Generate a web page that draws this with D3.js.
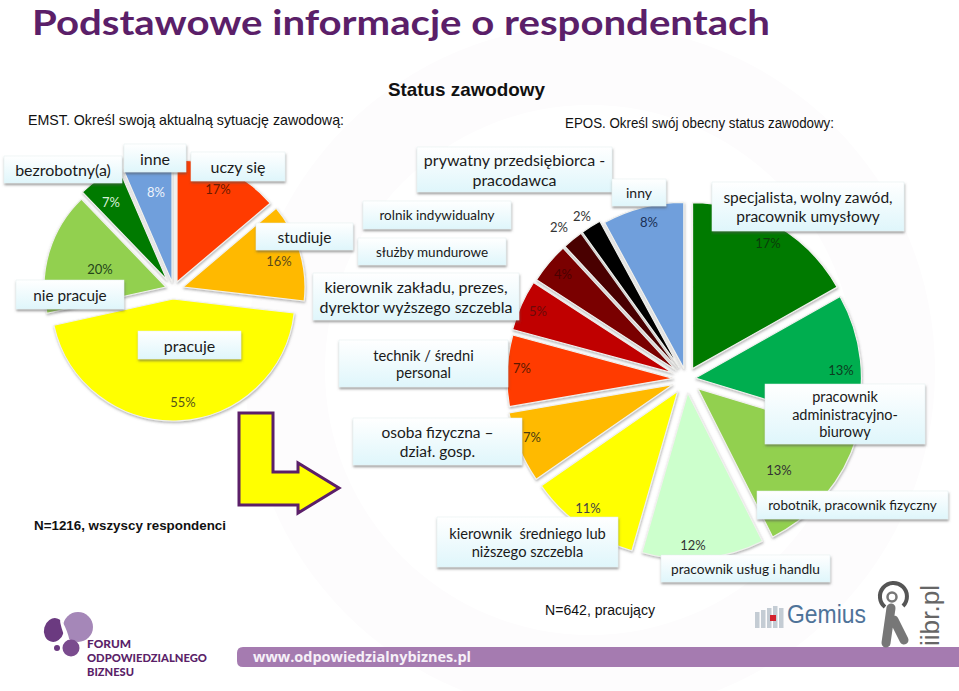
<!DOCTYPE html>
<html><head><meta charset="utf-8">
<script src="https://cdn.jsdelivr.net/npm/d3@7"></script>
<style>html,body{margin:0;padding:0;background:#fff}svg{display:block}</style>
</head><body><div id="c"></div>
<script>
const leftCategories=["uczy się","studiuje","pracuje","nie pracuje","bezrobotny(a)","inne"];
const leftValues=[17,16,55,20,7,8];
const leftColors=["#FF3B00","#FFB900","#FFFF00","#92D050","#007A00","#6F9FDC"];
const rightCategories=["specjalista, wolny zawód,\npracownik umysłowy","pracownik\nadministracyjno-\nbiurowy","robotnik, pracownik fizyczny","pracownik usług i handlu","kierownik  średniego lub\nniższego szczebla","osoba fizyczna –\ndział. gosp.","technik / średni\npersonal","kierownik zakładu, prezes,\ndyrektor wyższego szczebla","służby mundurowe","rolnik indywidualny","prywatny przedsiębiorca -\npracodawca","inny"];
const rightValues=[17,13,13,12,11,7,7,5,4,2,2,8];
const rightColors=["#007A00","#00AE50","#92D050","#CCFFCC","#FFFF00","#FFBA00","#FF3B00","#C00000","#7A0000","#4A0000","#000000","#6F9FDC"];

const W=959,H=691;
const svg=d3.select("#c").append("svg").attr("width",W).attr("height",H).attr("viewBox",[0,0,W,H]);
const defs=svg.append("defs");
const lg=defs.append("linearGradient").attr("id","box").attr("x1",0).attr("y1",0).attr("x2",0).attr("y2",1);
lg.append("stop").attr("offset",0).attr("stop-color","#ffffff");
lg.append("stop").attr("offset",1).attr("stop-color","#dff6fb");
const f=defs.append("filter").attr("id","sh").attr("x","-10%").attr("y","-10%").attr("width","120%").attr("height","130%");
f.append("feDropShadow").attr("dx",0.5).attr("dy",2).attr("stdDeviation",1.2).attr("flood-color","#555").attr("flood-opacity",0.55);
const fs=defs.append("filter").attr("id","ss").attr("x","-10%").attr("y","-10%").attr("width","120%").attr("height","120%");
fs.append("feDropShadow").attr("dx",0.5).attr("dy",1.5).attr("stdDeviation",1).attr("flood-color","#666").attr("flood-opacity",0.5);

// faint backdrop
const bg=svg.append("g").attr("fill","#fdfcfd");
bg.append("circle").attr("cx",590).attr("cy",370).attr("r",345);
svg.append("circle").attr("cx",590).attr("cy",370).attr("r",265).attr("fill","#fff");
bg.append("circle").attr("cx",590).attr("cy",370).attr("r",190);

// title and headers
svg.append("text").attr("x",32).attr("y",34.5).attr("font-family","Lato").attr("font-weight",700).attr("font-size",34.5).attr("fill","#5B1F69").attr("textLength",738).attr("lengthAdjust","spacingAndGlyphs").text("Podstawowe informacje o respondentach");
const ar=(t,x,y,s,w,len)=>{const e=svg.append("text").attr("x",x).attr("y",y).attr("font-family","Liberation Sans").attr("font-size",s).attr("font-weight",w||400).attr("fill","#111").text(t); if(len) e.attr("textLength",len).attr("lengthAdjust","spacingAndGlyphs");};
ar("Status zawodowy",388,96,18.5,700,157);
ar("EMST. Określ swoją aktualną sytuację zawodową:",28,125,14.2,400,316);
ar("EPOS. Określ swój obecny status zawodowy:",565,128,14,400,269);
ar("N=1216, wszyscy respondenci",34,530,13.5,700,192);
ar("N=642, pracujący",545,615,14,400,110);

function drawPie(cx,cy,r,values,colors,offset){
  const pie=d3.pie().sort(null).value(d=>d);
  const arc=d3.arc().innerRadius(0).outerRadius(r);
  const g=svg.append("g").attr("transform",`translate(${cx},${cy})`);
  g.selectAll("path").data(pie(values)).join("path")
    .attr("d",arc)
    .attr("fill",(d,i)=>colors[i])
    .attr("stroke","#f1f1ee").attr("stroke-width",1.2).attr("stroke-linejoin","round")
    .attr("filter","url(#ss)")
    .attr("transform",(d,i)=>`translate(${offset(d,i)})`);
}
const leftOffsets=[[3,-3],[9,2],[-1,14],[-8,2],[-7,-5],[-2,-3]];
const rightExplode=[12,9,15,14,15,15,13.5,15,14,14,14,11];
drawPie(174,285,122,leftValues,leftColors,(d,i)=>leftOffsets[i]);
drawPie(686.5,379,166,rightValues,rightColors,(d,i)=>{
  const a=(d.startAngle+d.endAngle)/2;
  return [Math.sin(a)*rightExplode[i],-Math.cos(a)*rightExplode[i]];
});

// percent labels
const pct=(vals,pos,cols)=>svg.append("g").selectAll("text").data(vals).join("text")
  .attr("x",(d,i)=>pos[i][0]).attr("y",(d,i)=>pos[i][1]).attr("text-anchor","middle").attr("dominant-baseline","central")
  .attr("font-family","Lato").attr("font-size",13).attr("fill",(d,i)=>cols[i]).text(d=>d+"%");
pct(leftValues,[[218,189],[279,261],[183,402],[100,269],[111,202],[156,192]],["#6b1a00","#5c4a1a","#55551a","#25451a","#d8f0d8","#eef3fb"]);
pct(rightValues,[[768,243],[841,370],[779,470],[693,545],[588,508],[532,437],[522,368],[538,311],[563,274],[559,227],[582,216],[649,222]],["#0b3d0b","#0b3d20","#333","#333","#444","#4a3a10","#5a1a00","#6a0a0a","#4a0000","#333","#333","#1a2f55"]);

// category labels
const boxes=svg.append("g");
function label(text,x0,y0,x1,y1,fs){
  const lines=text.split("\n");
  const g=boxes.append("g");
  g.append("rect").attr("x",x0).attr("y",y0).attr("width",x1-x0).attr("height",y1-y0).attr("fill","url(#box)").attr("stroke","#e3eef0").attr("stroke-width",.5).attr("filter","url(#sh)");
  const lh=fs*1.2, mid=(y0+y1)/2;
  lines.forEach((l,i)=>g.append("text").attr("x",(x0+x1)/2).attr("y",mid+(i-(lines.length-1)/2)*lh).attr("text-anchor","middle").attr("dominant-baseline","central").attr("font-family","Lato").attr("font-size",fs).attr("fill","#1a1a1a").style("white-space","pre").text(l));
}
const leftBoxes=[[191,152,285,181,16],[256,223,353,250,15.5],[138,331,241,359,16],[16,280,124,309,15.3],[4,156,122,183,16],[124,144,186,172,16]];
leftCategories.forEach((c,i)=>label(c,...leftBoxes[i]));
const rightBoxes=[[712,182,904,231,15.5],[765,384,925,444,14.5],[757,491,948,519,13.5],[661,555,830,582,13.7],[437,517,618,567,14.7],[353,418,522,465,15.5],[339,340,508,387,14.7],[313,273,519,320,16],[358,238,506,265,13.5],[363,201,511,229,13.5],[417,147,612,192,16],[612,179,666,206,14]];
rightCategories.forEach((c,i)=>label(c,...rightBoxes[i]));

// arrow
svg.append("path").attr("d","M239,413H273V472H298V463L339,488L298,513V505H239Z").attr("fill","#FFFF00").attr("stroke","#5B1F69").attr("stroke-width",3);

// footer
svg.append("path").attr("d","M959,647H243Q237,647 237,653V661Q237,667 243,667H959Z").attr("fill","#A57BB0");
svg.append("text").attr("x",253).attr("y",662).attr("font-family","Open Sans").attr("font-weight",700).attr("font-size",15).attr("fill","#f6f0f8").attr("textLength",218).attr("lengthAdjust","spacingAndGlyphs").text("www.odpowiedzialnybiznes.pl");
const lo=svg.append("g");
lo.append("circle").attr("cx",78).attr("cy",627).attr("r",15).attr("fill","#A587B8");
lo.append("ellipse").attr("cx",54).attr("cy",630).attr("rx",10).attr("ry",12).attr("transform","rotate(15 54 630)").attr("fill","#6B3A80");
lo.append("ellipse").attr("cx",65).attr("cy",632).attr("rx",2).attr("ry",13).attr("transform","rotate(-20 65 632)").attr("fill","#fff");
lo.append("circle").attr("cx",71).attr("cy",648).attr("r",8.5).attr("fill","#7A4B8E");
lo.append("circle").attr("cx",57).attr("cy",648).attr("r",3).attr("fill","#6B3A80");
[["FORUM",648,44],["ODPOWIEDZIALNEGO",662,120],["BIZNESU",676,47]].forEach(([t,y,len])=>svg.append("text").attr("x",87).attr("y",y).attr("font-family","Lato").attr("font-weight",900).attr("font-size",11.5).attr("fill","#5B1F69").attr("textLength",len).attr("lengthAdjust","spacingAndGlyphs").text(t));
svg.append("text").attr("x",787).attr("y",623).attr("font-family","Liberation Sans").attr("font-size",25).attr("fill","#4f7399").attr("textLength",79).attr("lengthAdjust","spacingAndGlyphs").text("Gemius");
const gm=svg.append("g").attr("fill","#c4ccd4");
d3.range(5).forEach(i=>gm.append("rect").attr("x",755+i*6).attr("y",606+Math.abs(3-i)*2).attr("width",4.5).attr("height",22-Math.abs(3-i)*2));
svg.append("rect").attr("x",770).attr("y",615).attr("width",6).attr("height",6).attr("fill","#d3212d");
svg.append("text").attr("transform","translate(939,646) rotate(-90)").attr("font-family","Liberation Sans").attr("font-size",25).attr("fill","#666").attr("textLength",61).attr("lengthAdjust","spacingAndGlyphs").text("iibr.pl");
const ib=svg.append("g").attr("fill","none").attr("stroke","#777");
ib.append("path").attr("d","M885,607A13.5,13.5 0 1 1 903,606").attr("stroke","#555").attr("stroke-width",4);
ib.append("circle").attr("cx",892).attr("cy",597).attr("r",4.5).attr("stroke-width",2.5);
ib.append("path").attr("d","M891,608L886,643M894,620L904,640").attr("stroke-width",9).attr("stroke-linecap","round");
</script></body></html>
